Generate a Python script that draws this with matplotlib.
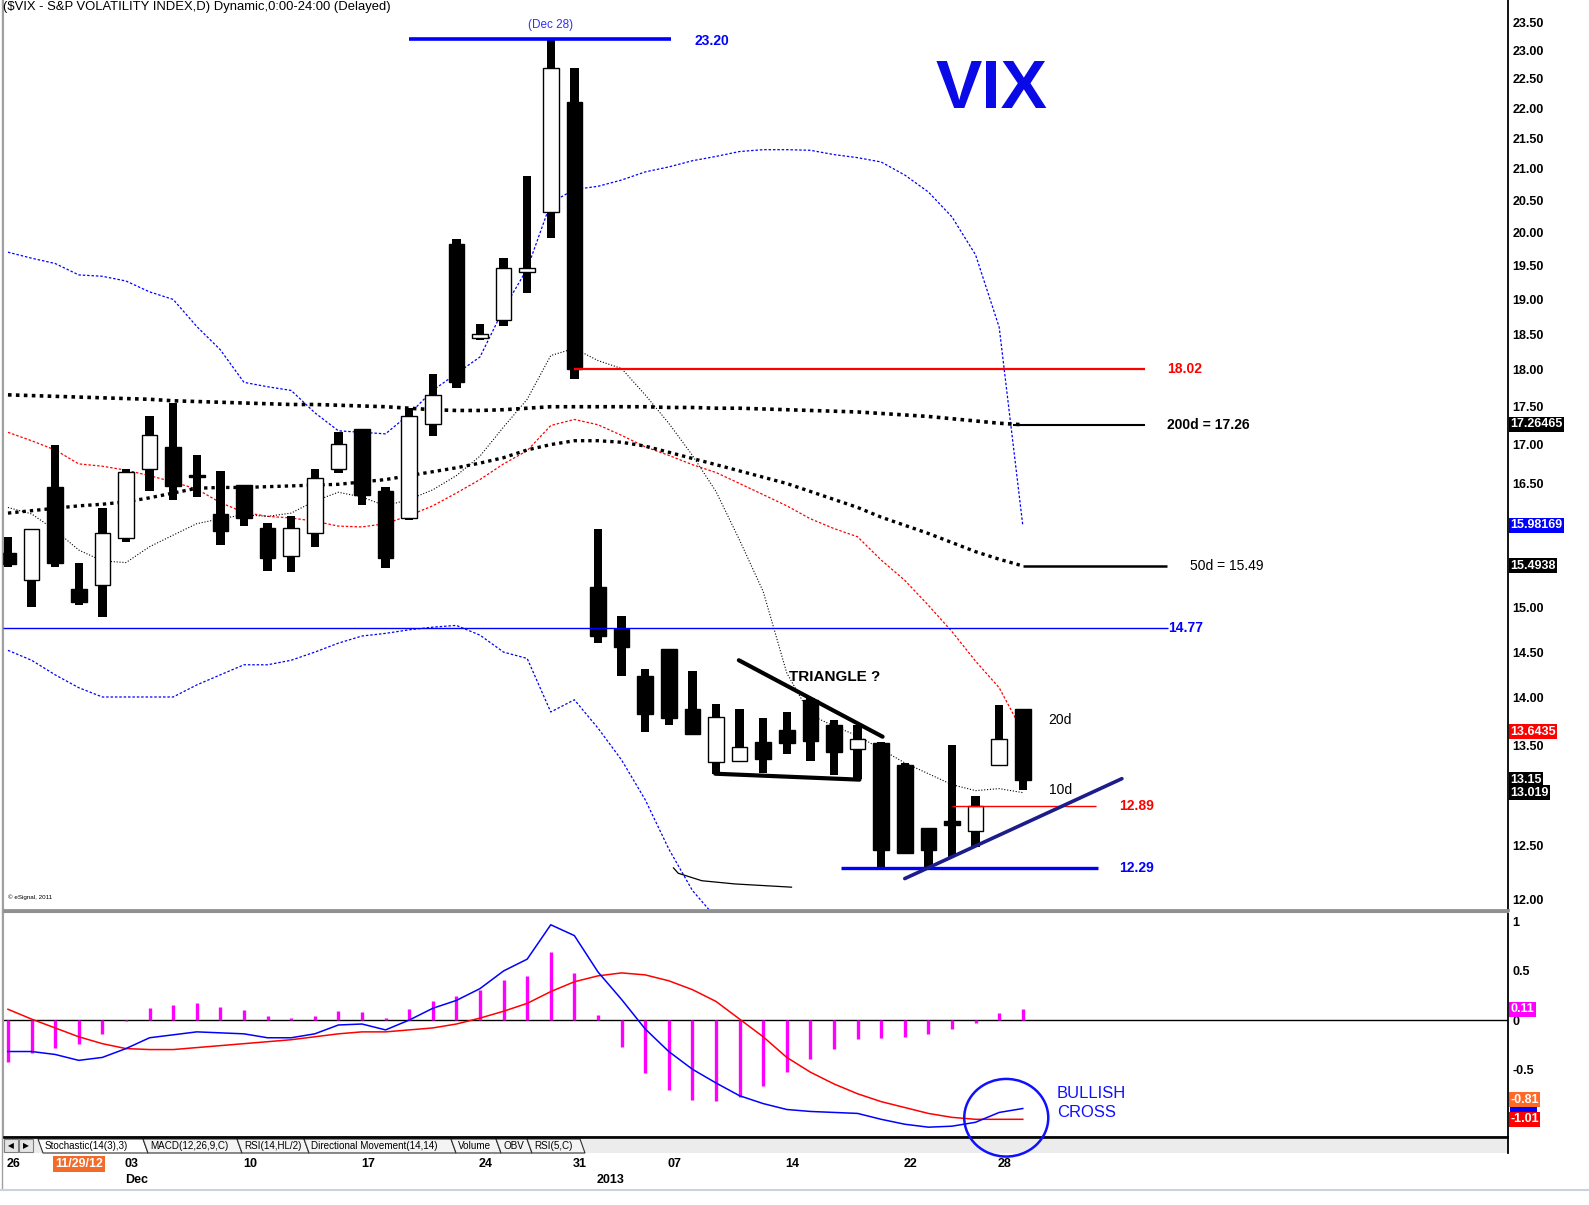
import matplotlib
matplotlib.use('Agg')
import matplotlib.pyplot as plt
import numpy as np
from matplotlib import font_manager as fm
from matplotlib.patches import Ellipse, Rectangle, Polygon
from matplotlib.lines import Line2D
from matplotlib.ticker import NullLocator
from matplotlib.transforms import blended_transform_factory

W, H = 1589, 1205

# daily $VIX candles, Nov 26 2012 .. Jan 29 2013 (trading days)
opens = [15.65, 15.32, 16.45, 15.22, 15.27, 15.83, 16.68, 16.97, 16.61, 16.12,
         16.48, 15.95, 15.61, 15.89, 16.69, 17.21, 16.40, 16.07, 17.27, 19.82,
         18.45, 18.70, 19.40, 20.31, 22.11, 15.24, 14.76, 14.24, 14.53, 13.88,
         13.33, 13.34, 13.54, 13.66, 13.98, 13.71, 13.46, 13.52, 13.30, 12.67,
         12.74, 12.64, 13.30, 13.88]
highs = [15.84, 15.94, 16.99, 15.52, 16.19, 16.69, 17.38, 17.55, 16.86, 16.66,
         16.48, 16.01, 16.10, 16.69, 17.16, 17.21, 16.45, 17.48, 17.95, 19.90,
         18.64, 19.61, 20.88, 23.20, 22.69, 15.94, 14.91, 14.31, 14.53, 14.29,
         13.93, 13.88, 13.79, 13.85, 14.00, 13.76, 13.71, 13.53, 13.32, 12.67,
         13.50, 12.99, 13.92, 13.88]
lows = [15.48, 15.01, 15.48, 15.03, 14.90, 15.78, 16.40, 16.29, 16.33, 15.74,
        15.97, 15.43, 15.42, 15.72, 16.63, 16.23, 15.47, 16.05, 17.11, 17.75,
        18.42, 18.61, 19.10, 19.92, 17.87, 14.60, 14.24, 13.64, 13.71, 13.62,
        13.21, 13.34, 13.22, 13.41, 13.34, 13.20, 13.16, 12.29, 12.42, 12.29,
        12.39, 12.49, 13.30, 13.05]
closes = [15.51, 15.93, 15.53, 15.07, 15.88, 16.64, 17.13, 16.47, 16.58, 15.91,
          16.07, 15.59, 15.95, 16.57, 17.01, 16.35, 15.59, 17.37, 17.66, 17.83,
          18.50, 19.46, 19.47, 22.69, 18.02, 14.68, 14.56, 13.83, 13.79, 13.62,
          13.80, 13.48, 13.36, 13.52, 13.55, 13.43, 13.57, 12.46, 12.43, 12.46,
          12.70, 12.89, 13.57, 13.15]

ma10 = [16.20, 16.12, 15.92, 15.68, 15.55, 15.53, 15.72, 15.86, 16.00, 16.06,
        16.11, 16.09, 16.13, 16.28, 16.39, 16.33, 16.22, 16.30, 16.42, 16.60,
        16.85, 17.23, 17.60, 18.20, 18.30, 18.13, 18.02, 17.66, 17.28, 16.86,
        16.40, 15.80, 15.19, 14.27, 13.82, 13.70, 13.60, 13.46, 13.32, 13.21,
        13.10, 13.04, 13.06, 13.02]
ma20 = [17.16, 17.05, 16.93, 16.75, 16.72, 16.67, 16.60, 16.52, 16.43, 16.26,
        16.14, 16.09, 16.07, 16.03, 15.97, 15.96, 16.00, 16.10, 16.22, 16.38,
        16.55, 16.75, 16.92, 17.25, 17.33, 17.26, 17.12, 16.97, 16.86, 16.74,
        16.64, 16.50, 16.36, 16.22, 16.06, 15.94, 15.84, 15.56, 15.32, 15.03,
        14.73, 14.40, 14.11, 13.64]
ma50 = [16.13, 16.16, 16.19, 16.22, 16.24, 16.27, 16.32, 16.38, 16.44, 16.45,
        16.45, 16.46, 16.47, 16.48, 16.49, 16.52, 16.55, 16.60, 16.65, 16.70,
        16.76, 16.83, 16.93, 17.00, 17.05, 17.05, 17.03, 16.98, 16.90, 16.82,
        16.74, 16.66, 16.58, 16.50, 16.40, 16.30, 16.20, 16.08, 15.98, 15.88,
        15.77, 15.66, 15.57, 15.49]
ma200 = [17.66, 17.65, 17.64, 17.63, 17.62, 17.61, 17.60, 17.58, 17.57, 17.56,
         17.55, 17.54, 17.53, 17.53, 17.52, 17.51, 17.50, 17.48, 17.46, 17.45,
         17.45, 17.46, 17.48, 17.50, 17.50, 17.50, 17.50, 17.50, 17.49, 17.49,
         17.48, 17.48, 17.47, 17.46, 17.45, 17.44, 17.43, 17.41, 17.39, 17.37,
         17.34, 17.31, 17.28, 17.26]
bb_upper = [19.70, 19.61, 19.53, 19.36, 19.34, 19.27, 19.11, 19.00, 18.61, 18.28,
            17.83, 17.77, 17.72, 17.42, 17.18, 17.16, 17.14, 17.40, 17.72, 17.95,
            18.18, 18.86, 19.45, 20.46, 20.67, 20.72, 20.82, 20.95, 21.03, 21.13,
            21.20, 21.28, 21.31, 21.31, 21.30, 21.23, 21.18, 21.11, 20.90, 20.63,
            20.24, 19.66, 18.60, 15.98]
bb_lower = [14.52, 14.41, 14.25, 14.11, 14.01, 14.01, 14.01, 14.01, 14.14, 14.25,
            14.36, 14.36, 14.41, 14.50, 14.60, 14.68, 14.71, 14.75, 14.78, 14.80,
            14.69, 14.50, 14.43, 13.85, 13.98, 13.68, 13.35, 12.95, 12.47, 12.08,
            11.83]
# stray black line near the lower band (x in trading-day units)
stray_x = [28.2, 28.4, 29.4, 30.8, 33.2]
stray_y = [12.29, 12.24, 12.17, 12.14, 12.11]

# MACD(12,26,9)
macd = [-0.32, -0.32, -0.35, -0.41, -0.38, -0.29, -0.18, -0.15, -0.12, -0.13,
        -0.14, -0.18, -0.18, -0.14, -0.05, -0.04, -0.10, 0.00, 0.12, 0.20,
        0.32, 0.50, 0.62, 0.97, 0.86, 0.49, 0.21, -0.09, -0.32, -0.50,
        -0.64, -0.77, -0.85, -0.91, -0.93, -0.94, -0.95, -1.01, -1.06, -1.09,
        -1.08, -1.04, -0.94, -0.90]
signal = [0.11, 0.01, -0.08, -0.17, -0.24, -0.29, -0.30, -0.30, -0.28, -0.26,
          -0.24, -0.22, -0.20, -0.17, -0.14, -0.12, -0.12, -0.10, -0.08, -0.04,
          0.02, 0.09, 0.17, 0.29, 0.39, 0.45, 0.48, 0.46, 0.40, 0.31,
          0.19, 0.01, -0.17, -0.38, -0.53, -0.65, -0.75, -0.83, -0.89, -0.95,
          -0.99, -1.01, -1.01, -1.01]
hist = [-0.43, -0.34, -0.28, -0.24, -0.14, -0.01, 0.12, 0.15, 0.17, 0.13,
        0.10, 0.04, 0.02, 0.04, 0.09, 0.08, 0.02, 0.11, 0.19, 0.24,
        0.31, 0.41, 0.45, 0.69, 0.48, 0.05, -0.27, -0.54, -0.71, -0.81,
        -0.82, -0.78, -0.67, -0.53, -0.40, -0.29, -0.19, -0.18, -0.17, -0.14,
        -0.09, -0.03, 0.07, 0.11]

price_ticks = [12.0, 12.5, 13.5, 14.0, 14.5, 15.0, 16.5, 17.0, 17.5, 18.0, 18.5,
               19.0, 19.5, 20.0, 20.5, 21.0, 21.5, 22.0, 22.5, 23.0, 23.5]
price_tags = [17.26465, 15.98169, 15.4938, 13.6435, 13.15, 13.019]
price_tag_txt = ['17.26465', '15.98169', '15.4938', '13.6435', '13.15', '13.019']
price_tag_bg = ['black', '#0000ff', 'black', '#ff0000', 'black', 'black']
macd_ticks = [1, 0.5, 0, -0.5]
macd_last = -0.90          # blue MACD tag, mostly hidden behind the others
macd_tags = [0.11, -0.81, -1.01]
macd_tag_txt = ['0.11', '-0.81', '-1.01']
macd_tag_bg = ['#ff00ff', '#ff6a28', '#ff0000']

date_idx = [0, 5, 10, 15, 20, 24, 28, 33, 38, 42]
date_txt = ['26', '03', '10', '17', '24', '31', '07', '14', '22', '28']
month_idx = [5, 25]
month_txt = ['Dec', '2013']
tabs = ['Stochastic(14(3),3)', 'MACD(12,26,9,C)', 'RSI(14,HL/2)',
        'Directional Movement(14,14)', 'Volume', 'OBV', 'RSI(5,C)']

# levels drawn on the chart
peak_level, peak_span = 23.20, (17.0, 28.1)
res_level, res_span = 18.02, (24.0, 48.2)
ma200_last, ma200_span = 17.26, (42.6, 48.2)
ma50_last, ma50_span = 15.49, (43.0, 49.1)
mid_level, mid_span = 14.77, (-0.21, 49.15)
close_level, close_span = 12.89, (40.0, 46.1)
low_level, low_span = 12.29, (35.3, 46.2)
tri_top = ([30.97, 37.06], [14.41, 13.59])
tri_bottom = ([29.97, 36.08], [13.21, 13.15])
trend_up = ([38.0, 47.2], [12.19, 13.16])

installed = {f.name for f in fm.fontManager.ttflist}
if 'Liberation Sans Narrow' in installed:
    NARROW, nk = 'Liberation Sans Narrow', 1.0
else:
    NARROW, nk = 'Liberation Sans', 0.94
SANS = 'Liberation Sans'
plt.rcParams['font.family'] = [SANS, 'DejaVu Sans']

fx = lambda x: x / W
fy = lambda y: 1 - y / H

fig = plt.figure(figsize=(W / 100, H / 100), dpi=100)
ax = fig.add_axes([fx(3), fy(910), 1505 / W, 910 / H])
axm = fig.add_axes([fx(3), fy(1137), 1505 / W, 225 / H])
XL = (-0.21, 63.56)
idx = np.arange(len(closes))

# ---- price panel
ax.set_xlim(*XL)
ax.set_yscale('log')
ax.set_ylim(11.90, 23.90)
ax.yaxis.tick_right()
ax.set_yticks(price_ticks, labels=[f'{t:.2f}' for t in price_ticks],
              fontweight='bold', fontsize=9)
ax.yaxis.set_minor_locator(NullLocator())
ax.tick_params(axis='y', length=0, pad=3)
ax.set_xticks([])
ax.spines['top'].set_visible(False)
ax.spines['left'].set_color('#a0a0a0')
ax.spines['right'].set_linewidth(1.3)
ax.spines['bottom'].set_color('#909090')
ax.spines['bottom'].set_linewidth(2)

ax.plot(idx, bb_upper, color='#0000ff', lw=0.9, ls=(0, (2, 1.5)), zorder=2)
ax.plot(np.arange(len(bb_lower)), bb_lower, color='#0000ff', lw=0.9, ls=(0, (2, 1.5)), zorder=2)
ax.plot(idx, ma20, color='#ff0000', lw=0.9, ls=(0, (2, 1.5)), zorder=2)
ax.plot(idx, ma10, color='black', lw=0.8, ls=(0, (1, 1.6)), zorder=2)
ax.plot(idx, ma50, color='black', lw=2.4, ls=(0, (1, 1.2)), zorder=2)
ax.plot(idx, ma200, color='black', lw=2.6, ls=(0, (1, 1.2)), zorder=2)
ax.plot(stray_x, stray_y, color='black', lw=0.9, zorder=2)

for i in idx:
    o, h, l, c = opens[i], highs[i], lows[i], closes[i]
    ax.bar(i, h - l, bottom=l, width=0.36, color='black', zorder=3)
    lo_b, hi_b = min(o, c), max(o, c)
    up = c > o
    ax.bar(i, max(hi_b - lo_b, 0.02), bottom=lo_b, width=0.66,
           facecolor='white' if up else 'black', edgecolor='black',
           linewidth=1, zorder=4)

# drawn levels and labels
ax.hlines(peak_level, *peak_span, color='#0000ff', lw=2.6, zorder=5)
ax.text(23, 23.45, '(Dec 28)', color='#3030ff', fontsize=8.5, ha='center', va='center')
ax.text(29.07, 23.16, '23.20', color='#0000ff', fontsize=10, fontweight='bold', va='center')
ax.hlines(res_level, *res_span, color='#ff0000', lw=1.6, zorder=5)
ax.text(49.1, res_level, '18.02', color='#ff0000', fontsize=10, fontweight='bold', va='center')
ax.hlines(ma200_last, *ma200_span, color='black', lw=1.5, zorder=5)
ax.text(49.1, ma200_last, '200d = 17.26', color='black', fontsize=10, fontweight='bold', va='center')
ax.hlines(ma50_last, *ma50_span, color='black', lw=1.8, zorder=5)
ax.text(50.1, ma50_last, '50d = 15.49', color='black', fontsize=10, va='center')
ax.hlines(mid_level, *mid_span, color='#0000ff', lw=1, zorder=5)
ax.text(49.15, mid_level, '14.77', color='#0000ff', fontsize=10, fontweight='bold', va='center')
ax.hlines(close_level, *close_span, color='#ff0000', lw=1, zorder=5)
ax.text(47.1, close_level, '12.89', color='#ff0000', fontsize=10, fontweight='bold', va='center')
ax.hlines(low_level, *low_span, color='#0000ff', lw=2.4, zorder=5)
ax.text(47.1, low_level, '12.29', color='#0000ff', fontsize=10, fontweight='bold', va='center')
ax.plot(*tri_top, color='black', lw=3, solid_capstyle='round', zorder=5)
ax.plot(*tri_bottom, color='black', lw=3, solid_capstyle='round', zorder=5)
ax.plot(*trend_up, color='#1c1c8a', lw=2.6, solid_capstyle='round', zorder=5)
ax.text(33.1, 14.23, 'TRIANGLE ?', fontsize=11, fontweight='bold', va='center')
ax.text(44.1, 13.76, '20d', fontsize=10, va='center')
ax.text(44.1, 13.05, '10d', fontsize=10, va='center')
ax.text(39.3, 22.31, 'VIX', fontsize=50, fontweight='bold', color='#0a0ae6', va='center')
ax.text(0.0, 12.02, '\u00a9 eSignal, 2011', fontsize=4.5, va='center')

ytr = blended_transform_factory(ax.transAxes, ax.transData)
for v, t, bg in zip(price_tags, price_tag_txt, price_tag_bg):
    ax.text(1.0015, v, t, transform=ytr, color='white', fontsize=9, fontweight='bold',
            va='center', ha='left', clip_on=False,
            bbox=dict(boxstyle='square,pad=0.12', fc=bg, ec='none'))

fig.text(fx(3), fy(7), '($VIX - S&P VOLATILITY INDEX,D) Dynamic,0:00-24:00 (Delayed)',
         family=[NARROW, 'DejaVu Sans'], fontsize=10 * nk, va='center', ha='left')

# ---- MACD panel
axm.set_xlim(*XL)
axm.set_ylim(-1.19, 1.10)
axm.yaxis.tick_right()
axm.set_yticks(macd_ticks, labels=['1', '0.5', '0', '-0.5'], fontweight='bold', fontsize=9)
axm.tick_params(axis='y', length=0, pad=3)
axm.set_xticks([])
axm.spines['top'].set_color('#909090')
axm.spines['top'].set_linewidth(1.5)
axm.spines['left'].set_color('#a0a0a0')
axm.spines['right'].set_linewidth(1.3)
axm.spines['bottom'].set_linewidth(1.3)
axm.axhline(0, color='black', lw=1, zorder=2)
axm.vlines(idx, 0, hist, color='#ff00ff', lw=2.4, zorder=3)
axm.plot(idx, signal, color='#ff0000', lw=1.1, zorder=4)
axm.plot(idx, macd, color='#0000ff', lw=1.1, zorder=4)
axm.text(44.45, -0.745, 'BULLISH', color='#1010ff', fontsize=12, va='center')
axm.text(44.45, -0.94, 'CROSS', color='#1010ff', fontsize=12, va='center')
mtr = blended_transform_factory(axm.transAxes, axm.transData)
axm.add_patch(Rectangle((1.001, macd_last - 0.06), 0.018, 0.12, transform=mtr,
                        fc='#0000ff', ec='none', clip_on=False))
for v, t, bg in zip(macd_tags, macd_tag_txt, macd_tag_bg):
    axm.text(1.0015, v, t, transform=mtr, color='white', fontsize=9, fontweight='bold',
             va='center', ha='left', clip_on=False,
             bbox=dict(boxstyle='square,pad=0.12', fc=bg, ec='none'))

# ---- tab strip
fig.add_artist(Rectangle((fx(3), fy(1153)), 1505 / W, 15 / H, transform=fig.transFigure,
                         fc='#ececec', ec='none'))
fig.add_artist(Line2D([fx(3), fx(1508)], [fy(1138), fy(1138)], transform=fig.transFigure,
                      color='black', lw=1.2))
fig.add_artist(Line2D([fx(1508), fx(1508)], [fy(1137), fy(1153)], transform=fig.transFigure,
                      color='black', lw=1.3))
for bx, glyph in [(4, '\u25c0'), (19, '\u25b6')]:
    fig.add_artist(Rectangle((fx(bx), fy(1152)), 14 / W, 13 / H, transform=fig.transFigure,
                             fc='#e4e4e4', ec='#808080', lw=0.8))
    fig.text(fx(bx + 7), fy(1145.5), glyph, family='DejaVu Sans', fontsize=5.5,
             ha='center', va='center')
tab_x = [38, 143, 237, 304, 451, 496, 527, 580]
for k, name in enumerate(tabs):
    x0, x1 = tab_x[k], tab_x[k + 1]
    fig.add_artist(Polygon([(fx(x0), fy(1139)), (fx(x1), fy(1139)), (fx(x1 + 5), fy(1153)),
                            (fx(x0 + 5), fy(1153))], closed=True, transform=fig.transFigure,
                           fc='white' if k == 0 else '#f4f4f4', ec='#303030', lw=0.8))
    fig.text(fx(x0 + 7), fy(1146), name, family=[NARROW, 'DejaVu Sans'], fontsize=8 * nk * 0.95,
             ha='left', va='center')

# ---- date labels
dtr = blended_transform_factory(axm.transData, fig.transFigure)
for i, t in zip(date_idx, date_txt):
    fig.text(i - 0.05, fy(1164), t, transform=dtr, fontsize=9, fontweight='bold',
             ha='left', va='center')
for i, t in zip(month_idx, month_txt):
    fig.text(i - 0.05, fy(1180), t, transform=dtr, fontsize=9, fontweight='bold',
             ha='left', va='center')
fig.text(3, fy(1164), '11/29/12', transform=dtr, fontsize=9, fontweight='bold',
         color='white', ha='center', va='center',
         bbox=dict(boxstyle='square,pad=0.15', fc='#f26b2a', ec='none'))
fig.add_artist(Line2D([fx(2), fx(2)], [fy(0), fy(1188)], transform=fig.transFigure,
                      color='#a0a0a0', lw=1))
fig.add_artist(Line2D([0, 1], [fy(1190), fy(1190)], transform=fig.transFigure,
                      color='#c8d2e0', lw=1.5))

# circle around the MACD cross, drawn over the tab strip like the original
fig.add_artist(Ellipse((42.3, -0.994), 3.56, 0.79, transform=axm.transData, fill=False,
                       ec='#1010ff', lw=1.8, zorder=10))

fig.savefig('out.png', dpi=100)
